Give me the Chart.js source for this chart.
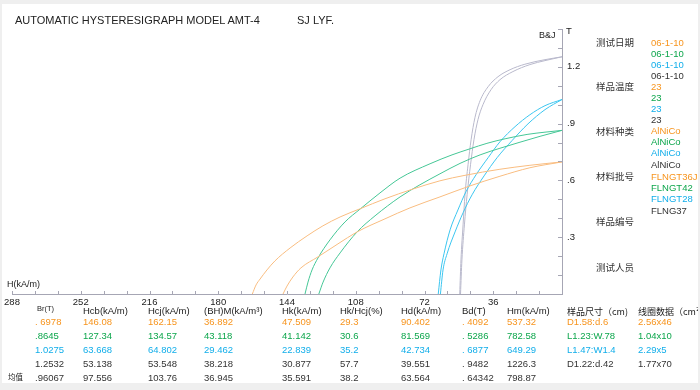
<!DOCTYPE html>
<html><head><meta charset="utf-8">
<script src="https://cdn.jsdelivr.net/npm/chart.js@4.4.1/dist/chart.umd.min.js"></script>
<style>
html,body{margin:0;padding:0;background:#efefef;}
#page{position:absolute;left:0;top:0;width:700px;height:390px;overflow:hidden;background:#efefef;font-family:"Liberation Sans",Arial,sans-serif;}
#panel{position:absolute;left:2px;top:4px;width:696px;height:379px;background:#fff;}
#c{position:absolute;left:0;top:0;}
#txt{position:absolute;left:0;top:0;width:698px;height:390px;overflow:hidden;}
.t{position:absolute;white-space:nowrap;line-height:1;transform:translateY(-50%);}
.cjk{font-family:"Noto Sans CJK SC","Liberation Sans",sans-serif;}
</style></head>
<body><div id="page"><div id="panel"></div><canvas id="c" width="700" height="390"></canvas><div id="txt"></div></div>
<script>
// ---- curve data (H in kA/m, B/J in T) ----
const orangeJ_H = [162.15,160.2,158.1,154.5,150.3,142.4,133.5,125.2,116.2,105.8,92.7,78.5,63.9,50.8,32.5,16.8,0];
const orangeJ_B = [0,0.048,0.079,0.127,0.175,0.243,0.307,0.360,0.407,0.450,0.503,0.553,0.598,0.627,0.659,0.680,0.6978];
const orangeB_H = [146.08,144.0,140.9,136.7,127.8,117.3,107.3,92.7,79.6,63.9,48.2,32.5,16.8,0];
const orangeB_B = [0,0.042,0.090,0.138,0.196,0.265,0.328,0.397,0.455,0.513,0.571,0.622,0.667,0.6978];
const greenJ_H = [134.57,133.0,130.9,127.8,121.5,113.6,105.8,95.3,84.8,69.1,57.6,48.2,39.3,29.8,18.3,8.9,0];
const greenJ_B = [0,0.063,0.127,0.190,0.286,0.381,0.448,0.534,0.612,0.688,0.735,0.767,0.796,0.820,0.843,0.855,0.8645];
const greenB_H = [127.34,125.1,121.5,116.2,107.3,97.9,84.8,74.4,63.9,53.4,42.9,32.5,22.0,11.5,0];
const greenB_B = [0,0.063,0.138,0.217,0.328,0.413,0.513,0.577,0.635,0.690,0.735,0.770,0.802,0.833,0.8645];
const blueJ_H = [64.8,63.4,61.8,58.6,54.5,50.3,45.0,38.7,32.5,24.6,16.8,8.9,0];
const blueJ_B = [0,0.127,0.212,0.339,0.444,0.540,0.630,0.720,0.804,0.884,0.947,0.995,1.0275];
const blueB_H = [63.67,62.3,60.2,56.0,51.8,47.1,40.8,34.0,26.2,17.8,8.9,0];
const blueB_B = [0,0.127,0.212,0.328,0.429,0.524,0.624,0.720,0.810,0.899,0.974,1.0275];
const grayJ_H = [53.55,52.9,51.8,50.8,49.2,47.6,45.6,42.9,38.7,33.5,27.2,19.4,8.9,0];
const grayJ_B = [0,0.180,0.365,0.524,0.683,0.815,0.931,1.021,1.095,1.148,1.185,1.214,1.238,1.2532];
const grayB_H = [53.14,52.4,51.1,49.7,47.9,46.1,44.0,41.4,37.2,32.5,25.7,16.8,8.9,0];
const grayB_B = [0,0.180,0.365,0.524,0.683,0.815,0.921,1.000,1.079,1.132,1.175,1.212,1.233,1.2532];

// ---- axis ----
const xTickStep = 12, xLabelEvery = 36, xMax = 288;
const yTickStep = 0.1, yMax = 1.4;

// ---- legend panel ----
const legendLabels = ["测试日期","样品温度","材料种类","材料批号","样品编号","测试人员"];
const testDates = ["06-1-10","06-1-10","06-1-10","06-1-10"];
const sampleTemps = ["23","23","23","23"];
const materialTypes = ["AlNiCo","AlNiCo","AlNiCo","AlNiCo"];
const batchNumbers = ["FLNGT36J","FLNGT42","FLNGT28","FLNG37"];

// ---- results table ----
const tableHeaders = ["Br(T)","Hcb(kA/m)","Hcj(kA/m)","(BH)M(kA/m³)","Hk(kA/m)","Hk/Hcj(%)","Hd(kA/m)","Bd(T)","Hm(kA/m)","样品尺寸（cm)","线圈数据（cm²)"];
const row1 = [". 6978","146.08","162.15","36.892","47.509","29.3","90.402",". 4092","537.32","D1.58:d.6","2.56x46"];
const row2 = [".8645","127.34","134.57","43.118","41.142","30.6","81.569",". 5286","782.58","L1.23:W.78","1.04x10"];
const row3 = ["1.0275","63.668","64.802","29.462","22.839","35.2","42.734",". 6877","649.29","L1.47:W1.4","2.29x5"];
const row4 = ["1.2532","53.138","53.548","38.218","30.877","57.7","39.551",". 9482","1226.3","D1.22:d.42","1.77x70"];
const meanRow = [".96067","97.556","103.76","36.945","35.591","38.2","63.564",". 64342","798.87"];
const meanLabel = "均值";

// ---- styles ----
const curveColors = ['#f9bd80','#45c796','#3cc6f0','#b9b9cc'];
const textColors = ['#f7941d','#0da64c','#12aeea','#333333'];
const axisColor = '#a6a6b4';
const FONT = '"Liberation Sans", Arial, sans-serif';

function pts(H,B){return H.map((h,i)=>({x:h,y:B[i]}));}
const curves = [
  [orangeJ_H,orangeJ_B,0],[orangeB_H,orangeB_B,0],
  [greenJ_H,greenJ_B,1],[greenB_H,greenB_B,1],
  [blueJ_H,blueJ_B,2],[blueB_H,blueB_B,2],
  [grayJ_H,grayJ_B,3],[grayB_H,grayB_B,3]
];
const datasets = curves.map(c=>({data:pts(c[0],c[1]),showLine:true,pointRadius:0,borderWidth:1,
  borderColor:curveColors[c[2]],cubicInterpolationMode:'monotone',fill:false}));

const tickPlugin = {
  id:'innerTicks',
  afterDraw(chart){
    const ctx=chart.ctx, xs=chart.scales.x, ys=chart.scales.y, a=chart.chartArea;
    ctx.save(); ctx.strokeStyle=axisColor; ctx.lineWidth=1;
    ctx.beginPath();
    for(let v=0; v<=xMax+1e-9; v+=xTickStep){const px=Math.round(xs.getPixelForValue(v))+0.5; ctx.moveTo(px,a.bottom); ctx.lineTo(px,a.bottom-3);}
    for(let k=0; k<=Math.round(yMax/yTickStep); k++){const py=Math.round(ys.getPixelForValue(k*yTickStep))+0.5; ctx.moveTo(a.right,py); ctx.lineTo(a.right-4,py);}
    ctx.stroke(); ctx.restore();
  }
};

new Chart(document.getElementById('c'),{
  type:'scatter',
  data:{datasets},
  options:{
    responsive:false, animation:false, devicePixelRatio:1,
    layout:{padding:{left:12,top:29,right:0,bottom:0}},
    plugins:{legend:{display:false},tooltip:{enabled:false}},
    scales:{
      x:{type:'linear',reverse:true,min:0,max:xMax,position:'bottom',
        afterFit(s){s.height=96;},
        grid:{drawOnChartArea:false,drawTicks:false},
        border:{display:true,color:axisColor},
        ticks:{stepSize:xTickStep,autoSkip:false,maxRotation:0,padding:3,color:'#222',font:{size:9.5,family:FONT},
          callback:(v)=>{const r=Math.round(v); return (r%xLabelEvery===0 && r>0)?String(r):'';}}
      },
      y:{type:'linear',position:'right',min:0,max:yMax,
        afterFit(s){s.width=138;},
        grid:{drawOnChartArea:false,drawTicks:false},
        border:{display:true,color:axisColor},
        ticks:{stepSize:yTickStep,autoSkip:false,padding:5,color:'#222',font:{size:9.5,family:FONT},
          callback:(v)=>{const k=Math.round(v*10); if(k>0 && k%3===0){return (k/10).toFixed(1).replace(/^0/,'');} return '';}}
      }
    }
  },
  plugins:[tickPlugin]
});

// ---- text ----
const txt=document.getElementById('txt');
function T(x,y,s,size,color,cjk){const d=document.createElement('div');d.className='t'+(cjk?' cjk':'');
  d.style.left=x+'px';d.style.top=y+'px';d.style.fontSize=size+'px';d.style.color=color;d.textContent=s;txt.appendChild(d);return d;}
T(15,20,"AUTOMATIC HYSTERESIGRAPH MODEL AMT-4",11,'#222');
T(297,20,"SJ LYF.",11,'#222');
T(7,284,"H(kA/m)",9,'#222');
T(539,35,"B&J",9,'#222');
T(566,31,"T",9.5,'#222');

const labelY=[43,87,132,177,222,268];
legendLabels.forEach((l,i)=>T(596,labelY[i],l,9.5,'#333',true));
const groups=[testDates,sampleTemps,materialTypes,batchNumbers];
const groupY=[42.7,86.7,131,177];
groups.forEach((g,gi)=>g.forEach((v,i)=>T(651,groupY[gi]+i*11.2,v,9.5,textColors[i])));

const colX=[35,83,148,204,282,340,401,462,507,567,638];
tableHeaders.forEach((h,i)=>{
  const cjk=/[\u4e00-\u9fff]/.test(h);
  if(i===0) T(37,309,h,7.5,'#222');
  else T(colX[i],311,h,cjk?9:9.5,'#222',cjk);
});
const rows=[row1,row2,row3,row4,meanRow];
const rowY=[322.3,336.3,350.4,364.4,378];
rows.forEach((r,ri)=>r.forEach((v,ci)=>T(colX[ci],rowY[ri],v,9.5,textColors[Math.min(ri,3)])));
T(8,377,meanLabel,7.5,'#222',true);
</script>
</body></html>
